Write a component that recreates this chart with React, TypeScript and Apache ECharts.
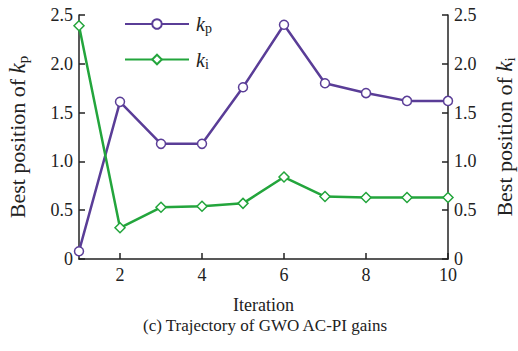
import React, { useEffect, useRef } from "react";
import * as echarts from "echarts";

const iterations = ["1", "2", "3", "4", "5", "6", "7", "8", "9", "10"];
const kpValues = [0.08, 1.61, 1.18, 1.18, 1.76, 2.4, 1.8, 1.7, 1.62, 1.62];
const kiValues = [2.39, 0.32, 0.53, 0.54, 0.57, 0.84, 0.64, 0.63, 0.63, 0.63];
const shownIterationLabels = ["2", "4", "6", "8", "10"];

const FONT = "Liberation Serif";
const PURPLE = "#5a3d97";
const GREEN = "#23a53c";
const INK = "#222";

const nameRich = {
  n: { fontFamily: FONT, fontSize: 22, color: INK },
  i: { fontFamily: FONT, fontSize: 23, fontStyle: "italic", color: INK },
  s: { fontFamily: FONT, fontSize: 15, color: INK, padding: [10, 0, 0, 0] },
};
const legendRich = {
  i: { fontFamily: FONT, fontSize: 20, fontStyle: "italic", color: INK },
  s: { fontFamily: FONT, fontSize: 14, color: INK, padding: [9, 0, 0, 0] },
};

export default function App() {
  const ref = useRef<HTMLDivElement>(null);
  useEffect(() => {
    document.body.style.margin = "0";
    if (!ref.current) return;
    const chart = echarts.init(ref.current, null, { renderer: "svg" });
    const yLabel = (v: number) => (v === 0 ? "0" : v.toFixed(1));
    const yAxisBase = {
      type: "value",
      min: 0,
      max: 2.5,
      interval: 0.5,
      splitLine: { show: false },
      axisLine: { show: true, lineStyle: { color: INK, width: 1.5 } },
      axisTick: { show: true, inside: true, length: 6, lineStyle: { color: INK, width: 1.5 } },
      axisLabel: { formatter: yLabel, fontFamily: FONT, fontSize: 18, color: INK, margin: 6 },
      nameLocation: "middle",
      nameTextStyle: { rich: nameRich },
    };
    chart.setOption({
      animation: false,
      backgroundColor: "#fff",
      grid: {
        left: 79,
        right: 70,
        top: 15,
        bottom: 92,
        containLabel: false,
        outerBoundsMode: "none",
      },
      legend: {
        orient: "vertical",
        left: 124,
        top: 14,
        padding: 0,
        itemWidth: 64,
        itemHeight: 12,
        itemGap: 14,
        data: ["kp", "ki"],
        formatter: (name: string) => (name === "kp" ? "{i|k}{s|p}" : "{i|k}{s|i}"),
        textStyle: { rich: legendRich, padding: [0, 0, 0, 2] },
      },
      xAxis: {
        type: "category",
        data: iterations,
        boundaryGap: false,
        axisLine: { show: true, lineStyle: { color: INK, width: 1.5 } },
        axisTick: {
          show: true,
          inside: true,
          length: 6,
          alignWithLabel: true,
          interval: (_i: number, v: string) => shownIterationLabels.includes(v),
          lineStyle: { color: INK, width: 1.5 },
        },
        axisLabel: {
          interval: (_i: number, v: string) => shownIterationLabels.includes(v),
          fontFamily: FONT,
          fontSize: 18,
          color: INK,
          margin: 7,
        },
        name: "Iteration",
        nameLocation: "middle",
        nameGap: 37,
        nameTextStyle: { fontFamily: FONT, fontSize: 18, color: INK },
      },
      yAxis: [
        { ...yAxisBase, position: "left", nameGap: 49, name: "{n|Best position of }{i|k}{s|p}" },
        { ...yAxisBase, position: "right", nameGap: 44, name: "{n|Best position of }{i|k}{s|i}" },
      ],
      series: [
        {
          name: "kp",
          type: "line",
          data: kpValues,
          yAxisIndex: 0,
          symbol: "circle",
          symbolSize: 9,
          showAllSymbol: true,
          lineStyle: { color: PURPLE, width: 2.5 },
          itemStyle: { color: "#fff", borderColor: PURPLE, borderWidth: 1.5 },
        },
        {
          name: "ki",
          type: "line",
          data: kiValues,
          yAxisIndex: 1,
          symbol: "diamond",
          symbolSize: 10,
          showAllSymbol: true,
          lineStyle: { color: GREEN, width: 2.5 },
          itemStyle: { color: "#fff", borderColor: GREEN, borderWidth: 1.5 },
        },
      ],
      graphic: [
        {
          type: "text",
          left: 143,
          top: 317,
          style: { text: "(c) Trajectory of GWO AC-PI gains", fontFamily: FONT, fontSize: 17, fill: INK },
        },
      ],
    });
    return () => chart.dispose();
  }, []);
  return <div ref={ref} style={{ width: 518, height: 351 }} />;
}
